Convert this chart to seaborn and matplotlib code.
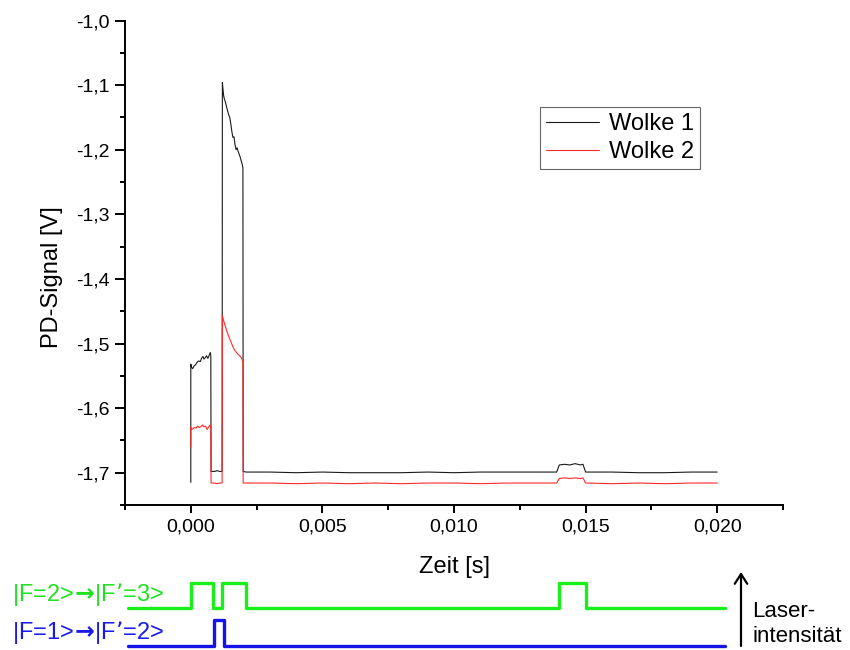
import matplotlib
matplotlib.use("Agg")
import matplotlib.pyplot as plt
import seaborn as sns
import pandas as pd
from matplotlib.ticker import MultipleLocator, FuncFormatter

# ---------------- data ----------------
t_w1 = [0.0, 0.0, 0.00003, 0.00007, 0.00012, 0.00018, 0.00024, 0.0003, 0.00036, 0.00041,
        0.00046, 0.0005, 0.00055, 0.0006, 0.00065, 0.0007, 0.00074, 0.00076, 0.00077, 0.0009,
        0.001, 0.0011, 0.00119, 0.0012, 0.00122, 0.00125, 0.00128, 0.00132, 0.00136, 0.0014,
        0.00144, 0.00148, 0.00152, 0.00156, 0.0016, 0.00164, 0.00168, 0.00172, 0.00176, 0.0018,
        0.00184, 0.00188, 0.00192, 0.00195, 0.00198, 0.00199, 0.0021, 0.003, 0.004, 0.005,
        0.006, 0.007, 0.008, 0.009, 0.010, 0.011, 0.012, 0.013, 0.0139, 0.014,
        0.0142, 0.0144, 0.0146, 0.0148, 0.0149, 0.015, 0.016, 0.017, 0.018, 0.019,
        0.020]
v_w1 = [-1.715, -1.532, -1.537, -1.539, -1.535, -1.533, -1.529, -1.527, -1.528, -1.523,
        -1.520, -1.524, -1.522, -1.519, -1.523, -1.518, -1.514, -1.518, -1.698, -1.698,
        -1.697, -1.698, -1.698, -1.096, -1.105, -1.117, -1.122, -1.127, -1.134, -1.140,
        -1.146, -1.150, -1.160, -1.172, -1.181, -1.180, -1.192, -1.200, -1.197, -1.203,
        -1.207, -1.212, -1.218, -1.222, -1.228, -1.698, -1.699, -1.699, -1.700, -1.699,
        -1.700, -1.700, -1.700, -1.699, -1.700, -1.699, -1.699, -1.699, -1.699, -1.688,
        -1.687, -1.688, -1.686, -1.688, -1.687, -1.699, -1.699, -1.700, -1.700, -1.699,
        -1.699]

t_w2 = [0.0, 0.0, 0.00003, 0.00008, 0.00014, 0.0002, 0.00026, 0.00032, 0.00038, 0.00044,
        0.0005, 0.00056, 0.00062, 0.00068, 0.00074, 0.00076, 0.00077, 0.0009, 0.001, 0.0011,
        0.00119, 0.0012, 0.00123, 0.00127, 0.00132, 0.00138, 0.00144, 0.0015, 0.00156, 0.00162,
        0.00168, 0.00174, 0.0018, 0.00186, 0.00192, 0.00198, 0.00199, 0.003, 0.004, 0.005,
        0.006, 0.007, 0.008, 0.009, 0.010, 0.011, 0.012, 0.013, 0.0139, 0.014,
        0.0142, 0.0144, 0.0146, 0.0148, 0.0149, 0.015, 0.016, 0.017, 0.018, 0.019,
        0.020]
v_w2 = [-1.660, -1.630, -1.633, -1.632, -1.630, -1.631, -1.628, -1.630, -1.629, -1.626,
        -1.629, -1.628, -1.633, -1.629, -1.626, -1.628, -1.716, -1.716, -1.717, -1.716,
        -1.716, -1.457, -1.462, -1.468, -1.474, -1.482, -1.489, -1.495, -1.501, -1.507,
        -1.511, -1.514, -1.517, -1.519, -1.522, -1.528, -1.716, -1.716, -1.717, -1.716,
        -1.717, -1.716, -1.717, -1.716, -1.716, -1.717, -1.716, -1.716, -1.716, -1.709,
        -1.708, -1.709, -1.708, -1.709, -1.708, -1.716, -1.717, -1.716, -1.717, -1.716,
        -1.716]

series_names = ["Wolke 1", "Wolke 2"]

# laser switching sequences (time, on/off)
green_t = [-0.0024, 0.0, 0.00083, 0.0012, 0.00208, 0.014, 0.015, 0.0203]
green_on = [0, 1, 0, 1, 0, 1, 0, 0]
blue_t = [-0.0024, 0.00089, 0.00125, 0.0203]
blue_on = [0, 1, 0, 0]
green_label = "|F=2>$\\!\\mathbf{\\rightarrow}\\!$|F\u2019=3>"
blue_label = "|F=1>$\\!\\mathbf{\\rightarrow}\\!$|F\u2019=2>"

# ---------------- style ----------------
sns.set_style("ticks", {"axes.edgecolor": "black", "xtick.color": "black",
                        "ytick.color": "black", "text.color": "black",
                        "axes.labelcolor": "black"})
plt.rcParams["font.family"] = ["Liberation Sans", "DejaVu Sans"]
plt.rcParams["mathtext.fontset"] = "dejavusans"

W, H = 850, 650
fig = plt.figure(figsize=(8.5, 6.5), dpi=100)
ax = fig.add_axes([125 / W, 145 / H, 658 / W, 484.5 / H])

df1 = pd.DataFrame({"t": t_w1, "v": v_w1})
df2 = pd.DataFrame({"t": t_w2, "v": v_w2})
sns.lineplot(data=df1, x="t", y="v", ax=ax, estimator=None, sort=False,
             color="#1a1a1a", lw=0.8, label=series_names[0])
sns.lineplot(data=df2, x="t", y="v", ax=ax, estimator=None, sort=False,
             color="#ff2a2a", lw=0.8, label=series_names[1])

ax.set_xlim(-0.0025, 0.0225)
ax.set_ylim(-1.75, -1.0)
ax.xaxis.set_major_locator(MultipleLocator(0.005))
ax.xaxis.set_minor_locator(MultipleLocator(0.0025))
ax.yaxis.set_major_locator(MultipleLocator(0.1))
ax.yaxis.set_minor_locator(MultipleLocator(0.05))
ax.xaxis.set_major_formatter(FuncFormatter(lambda v, p: f"{v:.3f}".replace(".", ",")))
ax.yaxis.set_major_formatter(FuncFormatter(lambda v, p: f"{v:.1f}".replace(".", ",")))
ax.tick_params(which="major", direction="out", width=1.4, labelsize=14, pad=4)
ax.tick_params(axis="y", which="major", length=7)
ax.tick_params(axis="x", which="major", length=6)
ax.tick_params(which="minor", direction="out", length=3.5, width=1.4)
sns.despine(ax=ax)
for s in ("left", "bottom"):
    ax.spines[s].set_linewidth(1.4)

ax.set_xlabel("Zeit [s]", fontsize=17)
ax.set_ylabel("PD-Signal [V]", fontsize=17)
ax.xaxis.set_label_coords(0.5, -0.105)
ax.yaxis.set_label_coords(-0.094, 0.47)

leg = ax.legend(loc="upper left", bbox_to_anchor=(0.631, 0.821), fontsize=17,
                frameon=True, fancybox=False, edgecolor="#666666", framealpha=1,
                handlelength=2.25, handletextpad=0.4, borderpad=0.25,
                labelspacing=0.25, borderaxespad=0)
leg.get_frame().set_linewidth(0.8)

# ---------------- laser sequence panel ----------------
ax2 = fig.add_axes([125 / W, 0, 658 / W, 80 / H], sharex=ax)
ax2.set_ylim(0, 80)
ax2.axis("off")
green_y = [42 + 25 * s for s in green_on]
blue_y = [4 + 26 * s for s in blue_on]
sns.lineplot(x=green_t, y=green_y, ax=ax2, estimator=None, sort=False,
             drawstyle="steps-post", color="#19ef19", lw=2.4, clip_on=False)
sns.lineplot(x=blue_t, y=blue_y, ax=ax2, estimator=None, sort=False,
             drawstyle="steps-post", color="#1414e6", lw=2.4, clip_on=False)
ax2.set_xlim(-0.0025, 0.0225)

fig.text(12 / W, 1 - 594 / H, green_label, color="#22e022", fontsize=17,
         ha="left", va="center")
fig.text(12 / W, 1 - 633 / H, blue_label, color="#1a1aee", fontsize=17,
         ha="left", va="center")

ax2.annotate("", xy=(741 / W, 1 - 572 / H), xytext=(741 / W, 1 - 646 / H),
             xycoords="figure fraction", textcoords="figure fraction",
             arrowprops=dict(arrowstyle="->,head_length=0.7,head_width=0.45",
                             lw=1.6, color="black", shrinkA=0, shrinkB=0))
fig.text(752 / W, 1 - 617 / H, "Laser-", fontsize=16, ha="left", va="baseline")
fig.text(752 / W, 1 - 642 / H, "intensität", fontsize=16, ha="left", va="baseline")

fig.savefig("out.png", dpi=100)
